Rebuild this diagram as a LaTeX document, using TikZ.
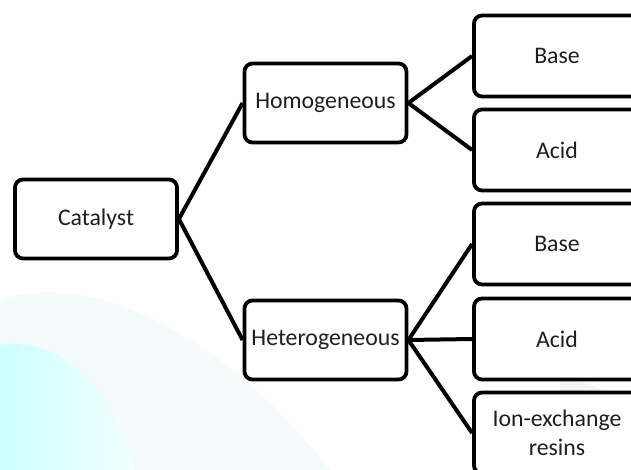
\documentclass[tikz,border=0pt]{standalone}
\usepackage{fontspec}
\setmainfont{Carlito}

\begin{document}
\begin{tikzpicture}[x=0.5pt,y=-0.5pt,
  box/.style={draw, line width=1.9pt, rounded corners=4pt, fill=white,
    minimum width=81pt, minimum height=39.5pt, align=center, inner sep=2pt,
    text=black!88, font=\fontsize{11.9}{14.5}\selectfont},
  leaf/.style={box, minimum width=83pt, minimum height=40.5pt},
  link/.style={line width=2pt}]

\useasboundingbox (0,0) rectangle (631,470);
\clip (0,0) rectangle (631,470);

% faint watermark in the background
\fill[teal!4] (0,300) .. controls (90,270) and (220,330) .. (330,470) -- (0,470) -- cycle;
\shade[left color=cyan!20, right color=cyan!5] (0,345) .. controls (60,335) and (115,390) .. (135,470) -- (0,470) -- cycle;
\fill[gray!8] (560,375) .. controls (600,385) and (625,400) .. (631,420) -- (631,470) -- (560,470) -- cycle;

% boxes
\node[box] (cat) at (96,219) {Catalyst};
\node[box] (hom) at (325.5,103) {Homogeneous};
\node[box] (het) at (325.5,340) {Heterogeneous};

\node[leaf] (base1) at (557,56) {Base};
\node[leaf] (acid1) at (557,150) {Acid};
\node[leaf] (base2) at (557,244) {Base};
\node[leaf] (acid2) at (557,339) {Acid};
\node[leaf] (ion) at (557,433) {Ion-exchange\\resins};

% connectors
\draw[link] (cat.east) -- (hom.west);
\draw[link] (cat.east) -- (het.west);
\draw[link] (hom.east) -- (base1.west);
\draw[link] (hom.east) -- (acid1.west);
\draw[link] (het.east) -- (base2.west);
\draw[link] (het.east) -- (acid2.west);
\draw[link] (het.east) -- (ion.west);

\end{tikzpicture}
\end{document}
